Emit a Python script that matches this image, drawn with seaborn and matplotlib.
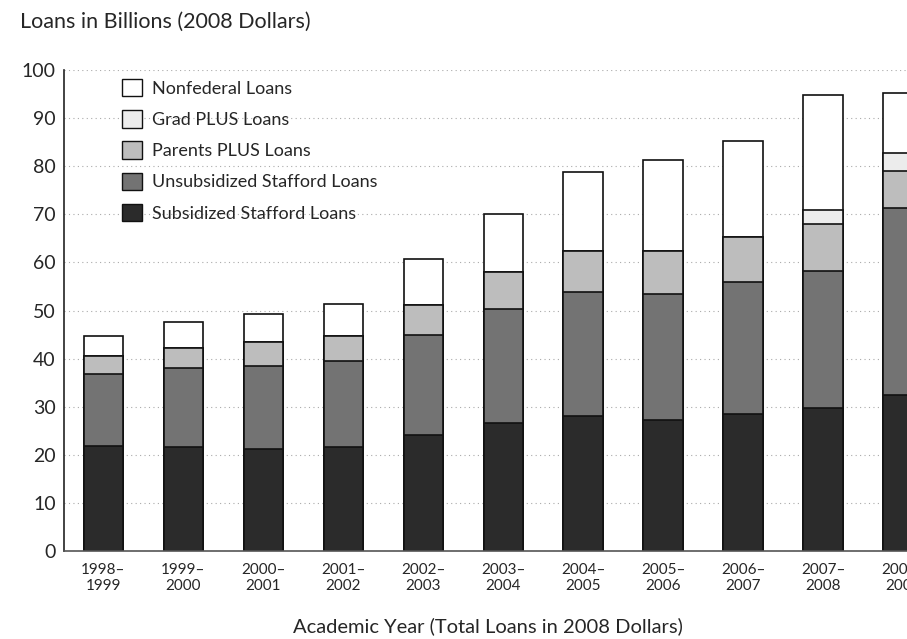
import numpy as np
import pandas as pd
import seaborn as sns
import matplotlib.pyplot as plt
from matplotlib.patches import Patch

years = ["1998–\n1999", "1999–\n2000", "2000–\n2001", "2001–\n2002", "2002–\n2003",
         "2003–\n2004", "2004–\n2005", "2005–\n2006", "2006–\n2007", "2007–\n2008",
         "2008–\n2009"]

# billions of 2008 dollars
subsidized = [21.8, 21.6, 21.2, 21.6, 24.1, 26.6, 28.1, 27.2, 28.5, 29.7, 32.4]
unsubsidized = [14.9, 16.5, 17.2, 17.9, 20.9, 23.7, 25.7, 26.2, 27.4, 28.6, 39.0]
parents_plus = [3.9, 4.2, 5.0, 5.1, 6.1, 7.7, 8.6, 9.0, 9.4, 9.6, 7.6]
grad_plus = [0, 0, 0, 0, 0, 0, 0, 0, 0, 2.9, 3.8]
nonfederal = [4.1, 5.4, 5.9, 6.8, 9.7, 12.0, 16.4, 18.8, 19.9, 23.9, 12.5]

series = ["Subsidized Stafford Loans", "Unsubsidized Stafford Loans",
          "Parents PLUS Loans", "Grad PLUS Loans", "Nonfederal Loans"]
colors = ["#2b2b2b", "#737373", "#bdbdbd", "#ececec", "#ffffff"]

df = pd.DataFrame({"year": years,
                   series[0]: subsidized,
                   series[1]: unsubsidized,
                   series[2]: parents_plus,
                   series[3]: grad_plus,
                   series[4]: nonfederal})
cum = df[series].cumsum(axis=1)

sns.set_style("white")
plt.rcParams['font.family'] = ['Lato', 'DejaVu Sans']

fig = plt.figure(figsize=(9.07, 6.39), dpi=100)
ax = fig.add_axes([64 / 907, 88 / 639, 1 - 64 / 907, 481 / 639])

ax.set_axisbelow(True)
ax.yaxis.grid(True, linestyle=(0, (1, 3)), color="#aaaaaa", linewidth=0.8)

# draw from the top layer down so each stack overlays the next
for name, col in reversed(list(zip(series, colors))):
    sns.barplot(x=df["year"], y=cum[name], color=col, width=0.49,
                edgecolor="#111111", linewidth=1.2, saturation=1, ax=ax,
                order=years)

ax.set_xlim(-0.49, 10.05)
ax.set_ylim(0, 100)
ax.set_yticks(np.arange(0, 101, 10))
ax.tick_params(axis="y", labelsize=14, length=0, pad=6)
ax.tick_params(axis="x", labelsize=11, length=0, pad=9)
for lab in ax.get_xticklabels():
    lab.set_linespacing(1.15)
ax.set_xlabel("")
ax.set_ylabel("")

for s in ["top", "right"]:
    ax.spines[s].set_visible(False)
ax.spines["left"].set_color("#222222")
ax.spines["left"].set_linewidth(1.2)
ax.spines["bottom"].set_color("#555555")
ax.spines["bottom"].set_linewidth(1.2)

handles = [Patch(facecolor=c, edgecolor="#111111", linewidth=1, label=n)
           for n, c in zip(series, colors)]
ax.legend(handles=handles[::-1], loc="upper left", bbox_to_anchor=(0.05, 1.015),
          frameon=False, fontsize=13, handlelength=1.1, handleheight=1.1,
          handletextpad=0.55, labelspacing=0.74)

fig.text(20 / 907, 1 - 22 / 639, "Loans in Billions (2008 Dollars)",
         fontsize=15.5, va="center", ha="left")
fig.text(488 / 907, 1 - 626 / 639, "Academic Year (Total Loans in 2008 Dollars)",
         fontsize=14.5, va="center", ha="center")

fig.savefig("out.png", dpi=100)
